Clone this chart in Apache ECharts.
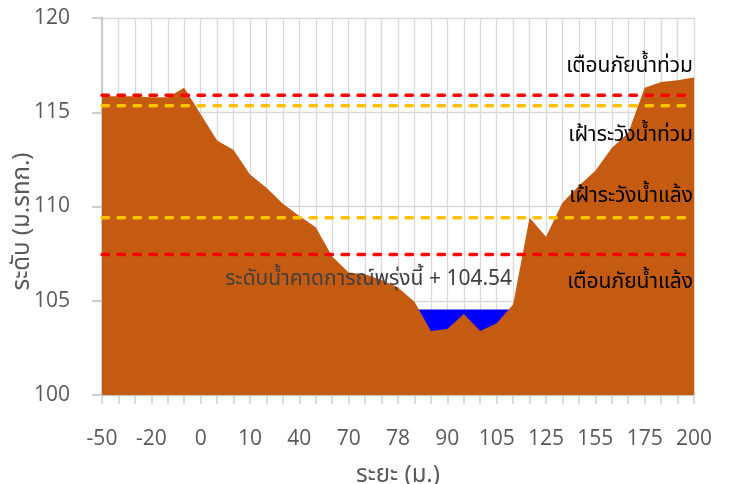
<!DOCTYPE html>
<html><head><meta charset="utf-8">
<script src="https://cdn.jsdelivr.net/npm/echarts@6/dist/echarts.min.js"></script>
<style>html,body{margin:0;padding:0;background:#fff}#c{width:730px;height:484px}</style>
</head><body><div id="c"></div>
<script>
const distances = [-50,-40,-30,-20,-15,-5,0,3,6,10,20,30,40,50,60,70,72,75,78,82,86,90,95,100,105,110,118,125,135,145,155,160,168,175,185,192,200];
const terrain = [115.85,115.85,115.85,115.8,115.8,116.3,114.9,113.5,113.0,111.7,111.0,110.15,109.5,108.9,107.35,106.5,106.4,106.1,105.7,104.95,103.4,103.5,104.3,103.4,103.8,104.8,109.4,108.4,110.2,111.1,111.9,113.1,113.9,116.3,116.6,116.7,116.85];
const waterLevel = 104.54;
const waterRange = [19, 25];
const floodWarn = 115.9;
const floodWatch = 115.35;
const droughtWatch = 109.4;
const droughtWarn = 107.45;
const yTicks = [100,105,110,115,120];

const FONT = '"Noto Sans Thai", "Noto Sans", "Open Sans", sans-serif';
const NUMFONT = '"Open Sans", "Noto Sans", sans-serif';
const water = distances.map((d,i)=> (i>=waterRange[0] && i<=waterRange[1]) ? waterLevel : null);
const flat = v => distances.map(()=>v);
const dashLine = (name, v, color) => ({
  name, type:'line', data: flat(v), symbol:'none', silent:true, z:5,
  lineStyle:{color, width:3.5, type:[6.5,9.5], cap:'round'}
});

const chart = echarts.init(document.getElementById('c'));
chart.setOption({
  animation:false,
  grid:{left:102, right:36, top:18, bottom:89, containLabel:false, outerBoundsMode:'none'},
  xAxis:{
    type:'category', data: distances.map(String), boundaryGap:false,
    name:'ระยะ (ม.)', nameLocation:'middle', nameGap:70, nameMoveOverlap:false,
    nameTextStyle:{color:'#595959', fontSize:24, fontFamily:FONT},
    axisLine:{lineStyle:{color:'#bfbfbf', width:1.5}},
    axisTick:{show:true, interval:0, length:9, lineStyle:{color:'#d0d0d0', width:1.5}},
    axisLabel:{interval:2, color:'#595959', fontSize:21, margin:34, fontFamily:NUMFONT},
    splitLine:{show:true, interval:0, lineStyle:{color:'#d9d9d9', width:1.3}}
  },
  yAxis:{
    type:'value', min:100, max:120, interval:5,
    name:'ระดับ (ม.รทก.)', nameLocation:'middle', nameGap:66, nameRotate:90, nameMoveOverlap:false,
    nameTextStyle:{color:'#595959', fontSize:24, fontFamily:FONT, padding:[0,30,0,0]},
    axisLine:{show:true, lineStyle:{color:'#bfbfbf', width:1.5}},
    axisTick:{show:true, length:10, lineStyle:{color:'#bfbfbf', width:1.5}},
    axisLabel:{color:'#595959', fontSize:21, margin:32, fontFamily:NUMFONT},
    splitLine:{show:true, lineStyle:{color:'#d9d9d9', width:1.3}}
  },
  series:[
    {name:'water', type:'line', data: water, symbol:'none', z:2, silent:true,
      lineStyle:{width:0}, areaStyle:{color:'#0000ff', opacity:1, origin:'start'}},
    {name:'terrain', type:'line', data: terrain, symbol:'none', z:3, silent:true,
      lineStyle:{width:0}, areaStyle:{color:'#c55a11', opacity:1, origin:'start'}},
    dashLine('floodWarn', floodWarn, '#ff0000'),
    dashLine('floodWatch', floodWatch, '#ffc000'),
    dashLine('droughtWatch', droughtWatch, '#ffc000'),
    dashLine('droughtWarn', droughtWarn, '#ff0000')
  ]
});

const last = distances.length-1;
const px = (i,v) => chart.convertToPixel({xAxisIndex:0,yAxisIndex:0},[i,v]);
const lbl = (text, i, v, dy, color) => {
  const p = px(i,v);
  return {type:'text', x:p[0]-1, y:p[1]+dy, z:50,
    style:{text, fill:color, font:'21px '+FONT, align:'right', verticalAlign:'middle'}};
};
chart.setOption({graphic:[
  lbl('เตือนภัยน้ำท่วม', last, floodWarn, -28, '#000'),
  lbl('เฝ้าระวังน้ำท่วม', last, floodWatch, 31, '#000'),
  lbl('เฝ้าระวังน้ำแล้ง', last, droughtWatch, -20, '#000'),
  lbl('เตือนภัยน้ำแล้ง', last, droughtWarn, 29, '#000'),
  lbl('ระดับน้ำคาดการณ์พรุ่งนี้ + ' + waterLevel.toFixed(2), waterRange[1]-0.3, waterLevel, -29, '#404040')
]});
</script></body></html>
